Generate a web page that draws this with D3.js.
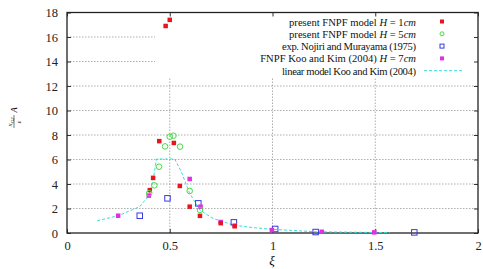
<!DOCTYPE html>
<html>
<head>
<meta charset="utf-8">
<script src="https://cdn.jsdelivr.net/npm/d3@7"></script>
<style>
  body { margin: 0; background: #fff; }
  text { font-family: "Liberation Serif", "DejaVu Serif", serif; }
</style>
</head>
<body>
<script>
// data
const fnpf1 = [[0.48, 16.9], [0.5, 17.4], [0.449, 7.5], [0.52, 7.35], [0.419, 4.5],
  [0.403, 3.5], [0.549, 3.84], [0.597, 2.15], [0.647, 1.4], [0.748, 0.8], [0.816, 0.55]];
const fnpf5 = [[0.5, 7.86], [0.518, 7.94], [0.477, 7.07], [0.55, 7.05], [0.448, 5.41],
  [0.425, 3.89], [0.4, 3.25], [0.597, 3.43], [0.647, 1.88]];
const nojiri = [[0.354, 1.41], [0.489, 2.83], [0.639, 2.42], [0.812, 0.87],
  [1.013, 0.33], [1.21, 0.08], [1.69, 0.05]];
const koo7 = [[0.249, 1.41], [0.398, 3.05], [0.597, 4.41], [0.65, 2.15], [0.748, 0.9],
  [0.816, 0.6], [0.997, 0.24], [1.24, 0.1], [1.495, 0.05]];
const linear = [[0.147, 1.0], [0.249, 1.41], [0.354, 2.15], [0.4, 3.1], [0.422, 4.6],
  [0.435, 6.04], [0.524, 6.04], [0.556, 5.0], [0.597, 3.24], [0.646, 1.88],
  [0.71, 1.2], [0.807, 0.65], [0.9, 0.45], [1.0, 0.3], [1.21, 0.1], [1.57, 0.03]];
const xTicks = [0, 0.5, 1, 1.5, 2];
const yTicks = [0, 2, 4, 6, 8, 10, 12, 14, 16, 18];

const W = 483, H = 269;
const m = { left: 67, right: 5, top: 12.5, bottom: 36 };
const serif = "'Liberation Serif', 'DejaVu Serif', serif";

const svg = d3.select("body").append("svg")
  .attr("width", W).attr("height", H);

const x = d3.scaleLinear().domain([0, 2]).range([m.left, W - m.right]);
const y = d3.scaleLinear().domain([0, 18]).range([H - m.bottom, m.top]);

// grid
const grid = svg.append("g").attr("stroke", "#999").attr("stroke-width", 0.8)
  .attr("stroke-dasharray", "1.5,1.5");
yTicks.slice(1, -1).forEach(v => {
  grid.append("line").attr("x1", x(0)).attr("x2", v >= 14 ? 155 : x(2))
    .attr("y1", y(v)).attr("y2", y(v));
});
xTicks.slice(1, -1).forEach(v => {
  grid.append("line").attr("x1", x(v)).attr("x2", x(v))
    .attr("y1", y(0)).attr("y2", 77);
});

// axes with inward ticks, mirrored
const tk = 4;
svg.append("g").attr("transform", `translate(0,${y(0)})`)
  .call(d3.axisBottom(x).tickValues(xTicks).tickSizeInner(-tk).tickSizeOuter(0).tickPadding(8)
    .tickFormat(d => d))
  .call(g => g.select(".domain").remove());
svg.append("g").attr("transform", `translate(0,${y(18)})`)
  .call(d3.axisTop(x).tickValues(xTicks).tickSizeInner(-tk).tickSizeOuter(0).tickFormat(""))
  .call(g => g.select(".domain").remove());
svg.append("g").attr("transform", `translate(${x(0)},0)`)
  .call(d3.axisLeft(y).tickValues(yTicks).tickSizeInner(-tk).tickSizeOuter(0).tickPadding(9))
  .call(g => g.select(".domain").remove());
svg.append("g").attr("transform", `translate(${x(2)},0)`)
  .call(d3.axisRight(y).tickValues(yTicks).tickSizeInner(-tk).tickSizeOuter(0).tickFormat(""))
  .call(g => g.select(".domain").remove());
svg.selectAll(".tick text").attr("font-size", 12.5)
  .attr("font-family", serif).style("font-family", serif).attr("fill", "#222");
svg.selectAll(".tick line").attr("stroke", "#333");

svg.append("rect").attr("x", x(0)).attr("y", y(18))
  .attr("width", x(2) - x(0)).attr("height", y(0) - y(18))
  .attr("fill", "none").attr("stroke", "#222").attr("stroke-width", 1.3);

// linear model
const line = d3.line().x(d => x(d[0])).y(d => y(d[1]));
svg.append("path").datum(linear).attr("d", line)
  .attr("fill", "none").attr("stroke", "#33dddd").attr("stroke-width", 1)
  .attr("stroke-dasharray", "3,2");

// markers
const redC = "#e8141e", greenC = "#44dd44", blueC = "#3a3ae0", magC = "#e030e0";
svg.append("g").selectAll("rect").data(nojiri).join("rect")
  .attr("x", d => x(d[0]) - 2.75).attr("y", d => y(d[1]) - 2.75)
  .attr("width", 5.5).attr("height", 5.5)
  .attr("fill", "none").attr("stroke", blueC).attr("stroke-width", 1);
svg.append("g").selectAll("rect").data(koo7).join("rect")
  .attr("x", d => x(d[0]) - 2.25).attr("y", d => y(d[1]) - 2.25)
  .attr("width", 4.5).attr("height", 4.5).attr("fill", magC);
svg.append("g").selectAll("rect").data(fnpf1).join("rect")
  .attr("x", d => x(d[0]) - 2.25).attr("y", d => y(d[1]) - 2.25)
  .attr("width", 4.5).attr("height", 4.5).attr("fill", redC);
svg.append("g").selectAll("circle").data(fnpf5).join("circle")
  .attr("cx", d => x(d[0])).attr("cy", d => y(d[1])).attr("r", 2.8)
  .attr("fill", "none").attr("stroke", greenC).attr("stroke-width", 1);

// legend
const lg = svg.append("g");
const rowY = i => 21.5 + 12.3 * i;
const tx = 416, sx = 442;
const labels = [
  ["present FNPF model ", "H", " = 1", "cm"],
  ["present FNPF model ", "H", " = 5", "cm"],
  ["exp. Nojiri and Murayama (1975)"],
  ["FNPF Koo and Kim (2004) ", "H", " = 7", "cm"],
  ["linear model Koo and Kim (2004)"]
];
labels.forEach((parts, i) => {
  const t = lg.append("text").attr("x", tx).attr("y", rowY(i) + 4)
    .attr("text-anchor", "end").attr("font-size", 10.6).attr("fill", "#111")
    .attr("textLength", i === 2 || i === 4 ? 134 : null);
  parts.forEach((p, j) => {
    t.append("tspan").text(p).attr("font-style", (j === 1 || j === 3) ? "italic" : "normal");
  });
});
lg.append("rect").attr("x", sx - 2).attr("y", rowY(0) - 2).attr("width", 4).attr("height", 4).attr("fill", redC);
lg.append("circle").attr("cx", sx).attr("cy", rowY(1)).attr("r", 2)
  .attr("fill", "none").attr("stroke", greenC);
lg.append("rect").attr("x", sx - 2).attr("y", rowY(2) - 2).attr("width", 4).attr("height", 4)
  .attr("fill", "none").attr("stroke", blueC);
lg.append("rect").attr("x", sx - 2).attr("y", rowY(3) - 2).attr("width", 4).attr("height", 4).attr("fill", magC);
lg.append("line").attr("x1", 424).attr("x2", 462).attr("y1", rowY(4)).attr("y2", rowY(4))
  .attr("stroke", "#33dddd").attr("stroke-dasharray", "3,2");

// axis labels
svg.append("text").attr("x", 272).attr("y", 265).attr("text-anchor", "middle")
  .attr("font-size", 13).attr("font-style", "italic").text("ξ");

const yl = svg.append("g").attr("transform", "translate(14,117) rotate(-90)");
yl.append("text").attr("x", -5).attr("y", -2).attr("text-anchor", "middle")
  .attr("font-size", 7).attr("font-style", "italic").text("x")
  .append("tspan").attr("font-size", 5).attr("dy", 1.5).text("G2");
yl.append("line").attr("x1", -11).attr("x2", 2).attr("y1", 0).attr("y2", 0)
  .attr("stroke", "#222").attr("stroke-width", 0.6);
yl.append("text").attr("x", -5).attr("y", 6.5).attr("text-anchor", "middle")
  .attr("font-size", 7).attr("font-style", "italic").text("ε");
yl.append("text").attr("x", 7).attr("y", 3).attr("text-anchor", "middle")
  .attr("font-size", 8.5).attr("font-style", "italic").text("A");
</script>
</body>
</html>
